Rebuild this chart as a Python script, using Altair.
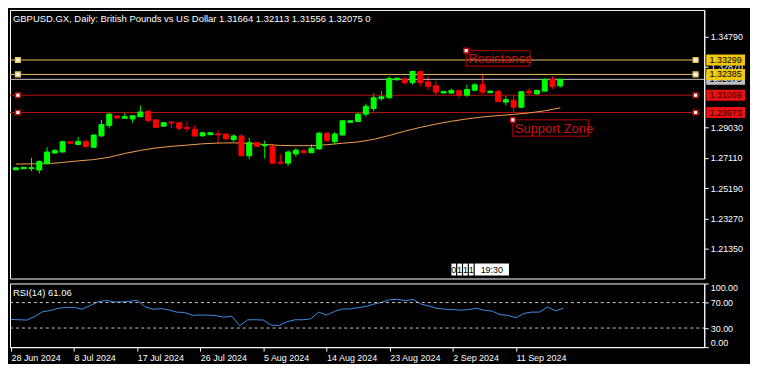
import json
import altair as alt
import pandas as pd

# ---------------- data ----------------
symbol_title = "GBPUSD.GX, Daily:  British Pounds vs US Dollar"
header_ohlc = [1.31664, 1.32113, 1.31556, 1.32075]

opens = [1.26348, 1.26408, 1.2642, 1.2633, 1.26732, 1.2741, 1.2747, 1.28112, 1.2795, 1.2813,
         1.2777, 1.2849, 1.2915, 1.2975, 1.29612, 1.2957, 1.29708, 1.3005, 1.2951, 1.29108,
         1.29372, 1.2933, 1.2903, 1.2891, 1.28508, 1.28568, 1.28628, 1.2861, 1.2825, 1.2849,
         1.2723, 1.2807, 1.27872, 1.2783, 1.26828, 1.26768, 1.2735, 1.27548, 1.27428, 1.27668,
         1.2867, 1.2813, 1.2855, 1.29348, 1.29408, 1.2987, 1.3023, 1.30848, 1.30908, 1.32048,
         1.3209, 1.31868, 1.3257, 1.3191, 1.3167, 1.31208, 1.31208, 1.31352, 1.3107, 1.31388,
         1.3173, 1.31232, 1.3131, 1.30632, 1.30752, 1.30308, 1.31328, 1.31148, 1.31328, 1.32072,
         1.31664]
highs = [1.2651, 1.2652, 1.2711, 1.26948, 1.2777, 1.2765, 1.28172, 1.28148, 1.2843, 1.2825,
         1.2858, 1.2951, 1.2993, 1.29768, 1.2993, 1.2978, 1.3041, 1.3011, 1.2954, 1.2936,
         1.29408, 1.29348, 1.2939, 1.2915, 1.28748, 1.2873, 1.2885, 1.28628, 1.28592, 1.2861,
         1.2837, 1.2810, 1.2819, 1.27968, 1.2735, 1.2759, 1.2771, 1.2759, 1.2795, 1.2873,
         1.28688, 1.2873, 1.2948, 1.2951, 1.2999, 1.3053, 1.3119, 1.31328, 1.3227, 1.32168,
         1.3221, 1.3263, 1.326, 1.3227, 1.3197, 1.3133, 1.3149, 1.3143, 1.3173, 1.31832,
         1.32372, 1.3135, 1.3143, 1.3101, 1.31112, 1.3131, 1.3155, 1.3139, 1.3215, 1.3227,
         1.32113]
lows = [1.2630, 1.2639, 1.2627, 1.26108, 1.2672, 1.2735, 1.27452, 1.27992, 1.27932, 1.2771,
        1.27752, 1.2843, 1.2897, 1.29552, 1.2960, 1.2933, 1.2969, 1.2933, 1.2897, 1.2909,
        1.2897, 1.28808, 1.2873, 1.2843, 1.2843, 1.2855, 1.27992, 1.2819, 1.2813, 1.27212,
        1.27008, 1.2777, 1.27068, 1.26708, 1.26708, 1.26588, 1.2717, 1.2738, 1.2741, 1.27608,
        1.2813, 1.27968, 1.2852, 1.2933, 1.29348, 1.29708, 1.3005, 1.30728, 1.30848, 1.31988,
        1.31748, 1.31748, 1.31628, 1.31388, 1.3107, 1.3119, 1.31148, 1.30848, 1.30968, 1.31328,
        1.31148, 1.3121, 1.30632, 1.30428, 1.29972, 1.3029, 1.31088, 1.3113, 1.3131, 1.31472,
        1.31556]
closes = [1.26468, 1.2651, 1.2648, 1.2687, 1.2747, 1.27572, 1.2813, 1.28028, 1.28148, 1.2783,
          1.2855, 1.2921, 1.2987, 1.2963, 1.29708, 1.29768, 1.30008, 1.29468, 1.2903, 1.2933,
          1.29312, 1.2897, 1.28952, 1.2849, 1.28688, 1.28688, 1.28568, 1.2831, 1.2849, 1.2723,
          1.2807, 1.2783, 1.27932, 1.26768, 1.26768, 1.2747, 1.2759, 1.27428, 1.2771, 1.2867,
          1.2819, 1.2861, 1.2945, 1.2945, 1.2987, 1.30368, 1.30908, 1.30968, 1.32132, 1.3215,
          1.31868, 1.3257, 1.31868, 1.31628, 1.31268, 1.3131, 1.3137, 1.3107, 1.3143, 1.3173,
          1.31268, 1.31328, 1.30668, 1.30788, 1.30308, 1.31292, 1.31208, 1.3137, 1.32072, 1.31628,
          1.32075]

ma_bars = [0, 4, 6, 8, 10, 12, 14, 16, 18, 20, 22, 24, 26, 28, 30, 32, 34, 36, 38, 40, 42,
           44, 46, 48, 50, 52, 54, 56, 58, 60, 62, 64, 66, 68, 70]
ma_values = [1.26708, 1.2673, 1.2681, 1.26912, 1.2699, 1.2714, 1.2738, 1.27572, 1.27728, 1.2783,
             1.27908, 1.27992, 1.2804, 1.28052, 1.2801, 1.2795, 1.2789, 1.27872, 1.27872, 1.27932,
             1.28028, 1.28112, 1.28268, 1.2852, 1.2879, 1.2903, 1.2924, 1.2942, 1.2957, 1.2969,
             1.2978, 1.29852, 1.29948, 1.3008, 1.30272]

rsi_values = [43.5, 43, 42.5, 48, 55.5, 57.5, 61, 62.5, 62.5, 59.5,
              65, 71, 73.5, 71, 71, 72, 73.5, 63.5, 59.5, 60.5,
              58.5, 55, 54.5, 50, 50.5, 50.3, 49.5, 47, 48.5, 33.5,
              43, 43, 42.5, 34.5, 34, 40, 43, 43, 44.5, 55,
              50.5, 56, 60, 60, 62, 64, 67.5, 70.5, 74.5, 75,
              73, 75, 67.5, 64.5, 61, 59.5, 59, 58, 59, 61,
              58, 56.5, 51, 50, 46, 53, 55, 55, 63, 57, 61.06]
rsi_title = "RSI(14) 61.06"

date_labels = ["28 Jun 2024", "8 Jul 2024", "17 Jul 2024", "26 Jul 2024", "5 Aug 2024",
               "14 Aug 2024", "23 Aug 2024", "2 Sep 2024", "11 Sep 2024"]
date_label_bars = [0, 8, 16, 24, 32, 40, 48, 56, 64]

level_prices = [1.33299, 1.32385, 1.31069, 1.29973]
level_labels = ["1.33299", "1.32385", "1.31069", "1.29973"]
level_kinds = ["resistance", "resistance", "support", "support"]
current_price = 1.32075
current_label = "1.32075"
# 1.30950 sits fully under the 1.31069 marker in the reference, so it is not listed
price_ticks = [1.21350, 1.23270, 1.25190, 1.27110, 1.29030, 1.32870, 1.34790]
rsi_ticks = [0, 30, 70, 100]
rsi_levels = [30, 70]

zone_names = ["Resistance", "Support Zone"]
widget_texts = ["0", "1", "1", "1", "19:30"]

# ---------------- layout / style ----------------
W, H1, H2 = 698, 270, 64
YMIN, YMAX = 1.1946, 1.3647
XMIN, XMAX = -0.125, 87.875
FONT = "Liberation Sans"
GREEN, RED = "#00FF00", "#FF0000"
GOLD_LINE, RED_LINE = "#E6C35C", "#B41414"
GOLD_BOX, RED_BOX = "#F2C80F", "#E81010"
MA_COLOR, RSI_COLOR = "#F0A050", "#3C8CE6"

xs = alt.Scale(domain=[XMIN, XMAX], nice=False, zero=False)
ys = alt.Scale(domain=[YMIN, YMAX], nice=False, zero=False)
px_price = (YMAX - YMIN) / H1
price_axis = alt.Axis(orient="right", values=price_ticks, format=".5f",
                      labelOverlap=False, labelFlush=False)


def X(field):
    return alt.X(field, scale=xs, axis=None)


def Y(field):
    return alt.Y(field, scale=ys, axis=price_axis)


cdf = pd.DataFrame({"i": list(range(len(opens))), "o": opens, "h": highs, "l": lows, "c": closes})
cdf["col"] = [GREEN if c >= o else RED for o, c in zip(opens, closes)]

base = alt.Chart(cdf)
wick = base.mark_rule(strokeWidth=1).encode(
    x=X("i:Q"), y=Y("l:Q"), y2="h:Q", color=alt.Color("col:N", scale=None),
)
body = base.mark_bar(size=5, strokeWidth=1).encode(
    x=X("i:Q"), y=Y("o:Q"), y2="c:Q",
    color=alt.Color("col:N", scale=None), stroke=alt.Stroke("col:N", scale=None),
)

ma = alt.Chart(pd.DataFrame({"i": ma_bars, "v": ma_values})).mark_line(
    color=MA_COLOR, strokeWidth=1).encode(x=X("i:Q"), y=Y("v:Q"))

ldf = pd.DataFrame({"p": level_prices, "lab": level_labels, "kind": level_kinds})
ldf["line"] = [GOLD_LINE if k == "resistance" else RED_LINE for k in level_kinds]
ldf["box"] = [GOLD_BOX if k == "resistance" else RED_BOX for k in level_kinds]
ldf["txt"] = ["#000000" if k == "resistance" else "#3A0000" for k in level_kinds]
ldf["lo"] = ldf["p"] - 5.5 * px_price
ldf["hi"] = ldf["p"] + 5.5 * px_price
ldf["xl"] = 0.25
ldf["xr"] = 87.4

cur = pd.DataFrame({"p": [current_price], "lab": [current_label]})
cur["lo"] = cur["p"] - 5.5 * px_price
cur["hi"] = cur["p"] + 5.5 * px_price

cur_line = alt.Chart(cur).mark_rule(color="#C8C8C8", strokeWidth=1).encode(
    y=Y("p:Q"), x=alt.value(0), x2=alt.value(W))
level_lines = alt.Chart(ldf).mark_rule(strokeWidth=1).encode(
    y=Y("p:Q"), x=alt.value(0), x2=alt.value(W - 5),
    color=alt.Color("line:N", scale=None))
anchors_l = alt.Chart(ldf).mark_point(shape="square", size=22, filled=False, fill="#FFFFFF",
                                       fillOpacity=1, strokeWidth=1.5).encode(
    x=X("xl:Q"), y=Y("p:Q"), color=alt.Color("line:N", scale=None))
anchors_r = anchors_l.encode(x=X("xr:Q"))

cur_box = alt.Chart(cur).mark_rect(color="#C0C0C0").encode(
    x=alt.value(W + 2), x2=alt.value(W + 41), y=Y("lo:Q"), y2="hi:Q")
cur_txt = alt.Chart(cur).mark_text(font=FONT, fontSize=9, color="#000000", align="center",
                                   baseline="middle").encode(
    x=alt.value(W + 21.5), y=Y("p:Q"), text="lab:N")
lvl_box = alt.Chart(ldf).mark_rect().encode(
    x=alt.value(W + 2), x2=alt.value(W + 41), y=Y("lo:Q"), y2="hi:Q",
    color=alt.Color("box:N", scale=None))
lvl_txt = alt.Chart(ldf).mark_text(font=FONT, fontSize=9, align="center", baseline="middle").encode(
    x=alt.value(W + 21.5), y=Y("p:Q"), text="lab:N",
    color=alt.Color("txt:N", scale=None))

# annotation boxes (Resistance / Support Zone)
zdf = pd.DataFrame({
    "name": zone_names,
    "x0": [57.9, 63.9], "x1": [66.1, 73.6],
    "y0": [1.3389, 1.2951], "y1": [1.32912, 1.28472],
})
zdf["ym"] = (zdf["y0"] + zdf["y1"]) / 2
zone_box = alt.Chart(zdf).mark_rect(fillOpacity=0, stroke="#C00000", strokeWidth=1).encode(
    x=X("x0:Q"), x2="x1:Q", y=Y("y0:Q"), y2="y1:Q")
zone_txt = alt.Chart(zdf).mark_text(font=FONT, fontSize=13, color="#D01010", align="left",
                                    baseline="middle", dx=2, dy=1).encode(
    x=X("x0:Q"), y=Y("ym:Q"), text="name:N")
zone_anchor = alt.Chart(zdf).mark_point(shape="square", size=22, filled=False, fill="#FFFFFF",
                                        fillOpacity=1, color="#C00000", strokeWidth=1.5).encode(
    x=X("x0:Q"), y=Y("y0:Q"))

# small countdown widget
wdf = pd.DataFrame({"t": widget_texts,
                    "x0": [56.0, 56.75, 57.5, 58.25, 59.0],
                    "x1": [56.6, 57.35, 58.1, 58.85, 63.4]})
wdf["xm"] = (wdf["x0"] + wdf["x1"]) / 2
w_box = alt.Chart(wdf).mark_rect(color="#FFFFFF").encode(
    x=X("x0:Q"), x2="x1:Q", y=alt.value(H1 - 15), y2=alt.value(H1 - 3))
w_txt = alt.Chart(wdf).mark_text(font=FONT, fontSize=9, color="#000000", baseline="middle").encode(
    x=X("xm:Q"), y=alt.value(H1 - 9), text="t:N")

hdr = symbol_title + "  " + " ".join(f"{v:.5f}" for v in header_ohlc) + "  0"
title = alt.Chart(pd.DataFrame({"t": [hdr]})).mark_text(
    font=FONT, fontSize=9.5, color="#FFFFFF", align="left", baseline="middle").encode(
    x=alt.value(3), y=alt.value(9), text="t:N")

main = alt.layer(
    wick, cur_line, level_lines, ma, body, anchors_l, anchors_r,
    zone_box, zone_txt, zone_anchor, w_box, w_txt, title,
    cur_box, cur_txt, lvl_box, lvl_txt,
).properties(width=W, height=H1)

# ---------------- RSI panel ----------------
rdf = pd.DataFrame({"i": list(range(len(rsi_values))), "r": rsi_values})
label_expr = "(" + json.dumps(date_labels) + ")[round(datum.value / 8)]"
rys = alt.Scale(domain=[0, 100], nice=False, zero=False)
rsi_axis = alt.Axis(orient="right", values=rsi_ticks, format=".2f",
                    labelFlush=True, labelOverlap=False)
rsi_line = alt.Chart(rdf).mark_line(color=RSI_COLOR, strokeWidth=1).encode(
    x=alt.X("i:Q", scale=xs, axis=alt.Axis(orient="bottom", values=date_label_bars,
                                           labelExpr=label_expr, labelAlign="left",
                                           labelOverlap=False, labelBound=False,
                                           labelFlush=False, labelPadding=2)),
    y=alt.Y("r:Q", scale=rys, axis=rsi_axis),
)
rsi_lv = alt.Chart(pd.DataFrame({"v": rsi_levels})).mark_rule(
    color="#C8C8C8", strokeDash=[3, 3], strokeWidth=1).encode(
    y=alt.Y("v:Q", scale=rys, axis=rsi_axis), x=alt.value(0), x2=alt.value(W))
rsi_t = alt.Chart(pd.DataFrame({"t": [rsi_title]})).mark_text(
    font=FONT, fontSize=9.5, color="#FFFFFF", align="left", baseline="middle").encode(
    x=alt.value(3), y=alt.value(10), text="t:N")
rsi = alt.layer(rsi_line, rsi_lv, rsi_t).properties(width=W, height=H2)

chart = alt.vconcat(main, rsi, spacing=3).properties(
    padding={"left": 0, "top": 0, "right": 4, "bottom": 0}
).configure(background="#000000").configure_view(
    stroke="#FFFFFF", strokeWidth=1
).configure_axis(
    domainColor="#FFFFFF", tickColor="#FFFFFF", labelColor="#FFFFFF", labelFont=FONT,
    labelFontSize=9, grid=False, tickSize=4, title=None, domainWidth=1, tickWidth=1,
    labelOverlap=False,
)

chart.save("out.html", embed_options={"renderer": "svg", "actions": False})
